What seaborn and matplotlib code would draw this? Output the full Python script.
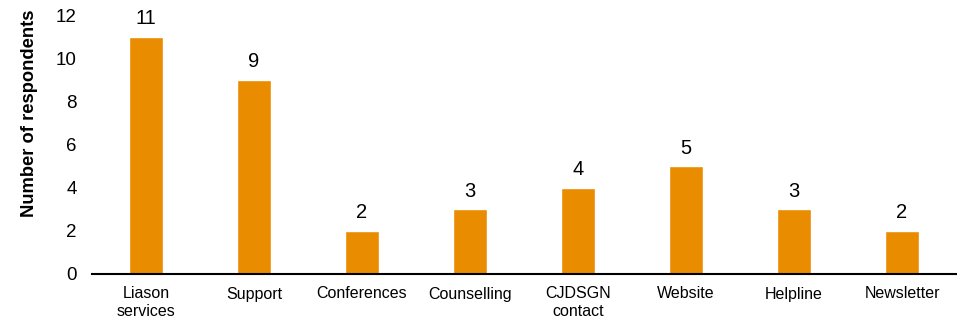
import matplotlib
matplotlib.use("Agg")
import matplotlib.pyplot as plt
import seaborn as sns
import pandas as pd

categories = ["Liason\nservices", "Support", "Conferences", "Counselling",
              "CJDSGN\ncontact", "Website", "Helpline", "Newsletter"]
values = [11, 9, 2, 3, 4, 5, 3, 2]
y_ticks = [0, 2, 4, 6, 8, 10, 12]

sns.set_theme(style="white")
plt.rcParams['font.family'] = ['Liberation Sans', 'DejaVu Sans']

df = pd.DataFrame({"category": categories, "value": values})

fig = plt.figure(figsize=(9.57, 3.22), dpi=100)
ax = fig.add_axes([92/957, 48/322, 864/957, (274-15)/322])
sns.barplot(data=df, x="category", y="value", color="#EA8C00", saturation=1,
            width=0.315, ax=ax)
ax.set_xlim(-0.5, len(categories) - 0.5)
ax.set_ylim(0, 12)
ax.set_yticks(y_ticks)
ax.set_yticklabels([str(t) for t in y_ticks], fontsize=13.5, color="#000000")
ax.tick_params(axis="y", length=0, pad=11)
ax.tick_params(axis="x", length=0, pad=9, labelsize=11.5, labelcolor="#000000")
for lbl in ax.get_xticklabels():
    lbl.set_linespacing(1.25)
ax.set_xlabel("")
ax.set_ylabel("Number of respondents", fontsize=13.2, fontweight="bold",
              color="#000000")
ax.yaxis.set_label_coords(-0.063, 0.62)
for s in ["top", "right", "left"]:
    ax.spines[s].set_visible(False)
ax.spines["bottom"].set_color("#000000")
ax.spines["bottom"].set_linewidth(1.5)
ax.bar_label(ax.containers[0], labels=[str(v) for v in values], padding=6,
             fontsize=14.5, color="#000000")
fig.savefig("out.png", dpi=100)
